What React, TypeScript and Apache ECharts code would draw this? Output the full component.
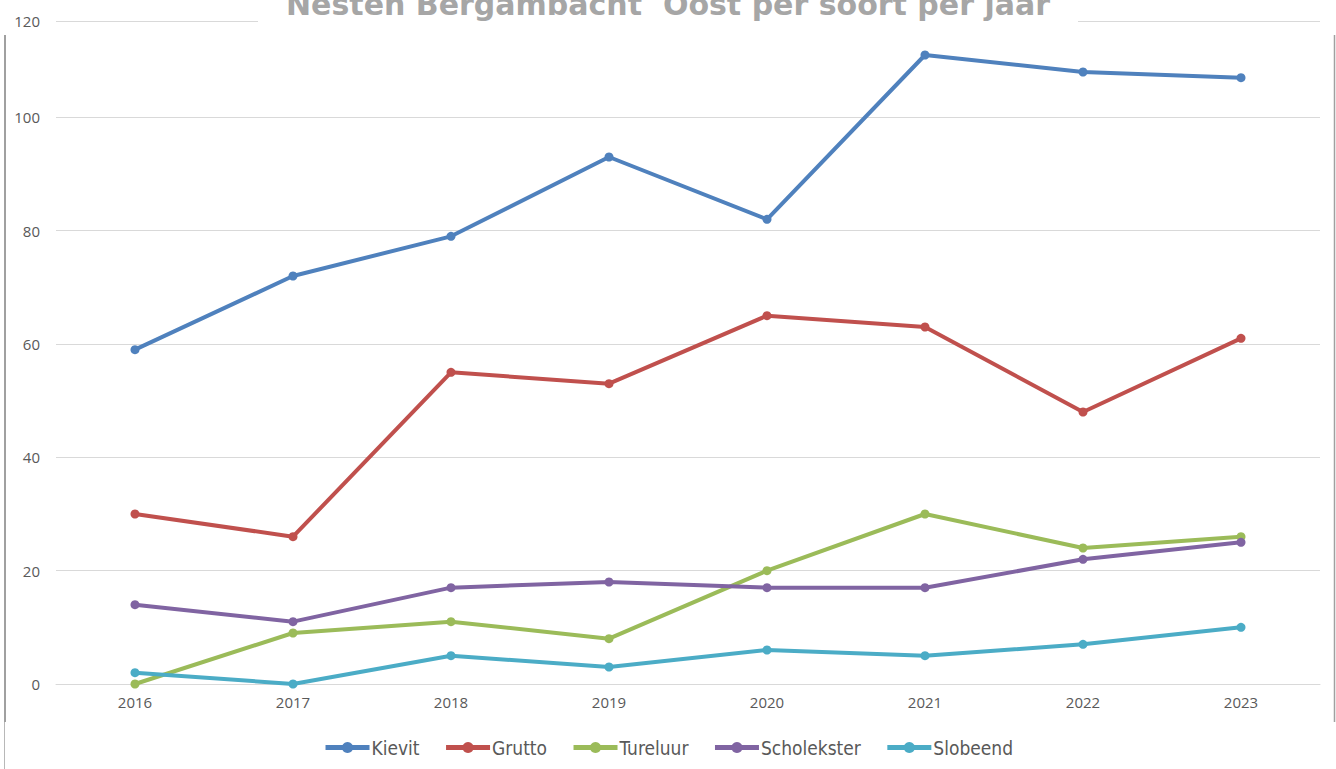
import React, { useEffect, useRef } from "react";
import * as echarts from "echarts";

const years = ["2016", "2017", "2018", "2019", "2020", "2021", "2022", "2023"];
const kievit = [59, 72, 79, 93, 82, 111, 108, 107];
const grutto = [30, 26, 55, 53, 65, 63, 48, 61];
const tureluur = [0, 9, 11, 8, 20, 30, 24, 26];
const scholekster = [14, 11, 17, 18, 17, 17, 22, 25];
const slobeend = [2, 0, 5, 3, 6, 5, 7, 10];

const seriesNames = ["Kievit", "Grutto", "Tureluur", "Scholekster", "Slobeend"];
const seriesData = [kievit, grutto, tureluur, scholekster, slobeend];
const colors = ["#4F81BD", "#C0504D", "#9BBB59", "#8064A2", "#4BACC6"];

const titleText = "Nesten Bergambacht  Oost per soort per jaar";
// the top gridline of the source sits at value ~117 but is labelled 120
const yTop = 117;
const yTopLabel = "120";

export default function App() {
  const ref = useRef<HTMLDivElement>(null);
  useEffect(() => {
    if (!ref.current) return;
    const chart = echarts.init(ref.current, null, { renderer: "svg" });
    chart.setOption({
      animation: false,
      backgroundColor: "#ffffff",
      title: {
        text: titleText,
        left: "center",
        top: -11,
        padding: [0, 28, 10, 28],
        backgroundColor: "#ffffff",
        textStyle: {
          fontFamily: "DejaVu Sans",
          fontWeight: "bold",
          fontSize: 30,
          color: "#a6a6a6",
        },
        z: 10,
      },
      grid: { left: 56, right: 16, top: 21, bottom: 85 },
      xAxis: {
        type: "category",
        data: years,
        boundaryGap: true,
        axisLine: { show: true, lineStyle: { color: "#d9d9d9", width: 1 } },
        axisTick: { show: false },
        axisLabel: {
          color: "#595959",
          fontSize: 15,
          fontFamily: "Open Sans",
          margin: 10,
        },
      },
      yAxis: {
        type: "value",
        min: 0,
        max: yTop,
        interval: 20,
        axisLine: { show: false },
        axisTick: { show: false },
        splitLine: { lineStyle: { color: "#d9d9d9", width: 1 } },
        axisLabel: {
          color: "#595959",
          fontSize: 15,
          fontFamily: "Open Sans",
          margin: 16,
          formatter: (v: number) => (v === yTop ? yTopLabel : String(v)),
        },
      },
      legend: {
        data: seriesNames,
        left: "center",
        top: 733,
        itemGap: 24,
        itemWidth: 44,
        itemHeight: 14,
        lineStyle: { width: 5 },
        textStyle: {
          fontFamily: "Liberation Sans Narrow, DejaVu Sans Condensed, sans-serif",
          fontSize: 19,
          color: "#595959",
          padding: [0, 0, 0, -3],
        },
      },
      graphic: [
        { type: "line", shape: { x1: 5, y1: 35, x2: 5, y2: 722 }, style: { stroke: "#a0a0a0", lineWidth: 2 } },
        { type: "line", shape: { x1: 4.5, y1: 722, x2: 4.5, y2: 769 }, style: { stroke: "#b8b8b8", lineWidth: 1 } },
        { type: "line", shape: { x1: 1334.5, y1: 35, x2: 1334.5, y2: 722 }, style: { stroke: "#a0a0a0", lineWidth: 1.5 } },
      ],
      series: seriesNames.map((name, i) => ({
        name,
        type: "line",
        data: seriesData[i],
        symbol: "circle",
        symbolSize: 9,
        lineStyle: { width: 4, color: colors[i] },
        itemStyle: { color: colors[i] },
        emphasis: { disabled: true },
      })),
    });
    return () => chart.dispose();
  }, []);
  return (
    <div
      ref={ref}
      style={{ position: "fixed", left: 0, top: 0, width: 1336, height: 769 }}
    />
  );
}
